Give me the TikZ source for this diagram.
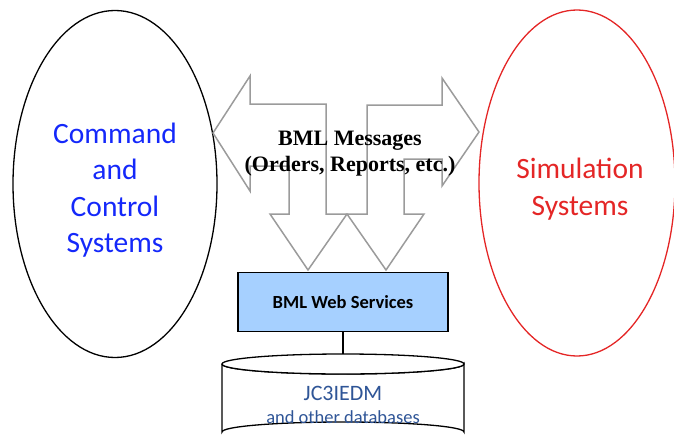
\documentclass[tikz,border=0pt]{standalone}
\usepackage{fontspec}
\setmainfont{Carlito}
\newfontfamily\timesfont{Liberation Serif}
\usetikzlibrary{arrows.meta,positioning,calc,shapes.geometric}
\definecolor{ctwoblue}{RGB}{20,40,250}
\definecolor{simred}{RGB}{228,38,38}
\definecolor{dbblue}{RGB}{47,85,151}
\definecolor{wsfill}{RGB}{166,208,255}
\definecolor{arrowgray}{RGB}{155,155,155}
\tikzset{
  every picture/.append style={line width=1.2pt},
}

\begin{document}
\begin{tikzpicture}[
  x=1pt, y=-1pt,
  system/.style={
    ellipse,
    draw,
    line width=1.3pt,
    inner sep=0pt
  },
  systext/.style={align=center, font=\fontsize{29.5}{36.3}\selectfont},
  msgarrow/.style={draw=arrowgray, line width=1.5pt, line join=miter},
  wsbox/.style={
    rectangle,
    draw,
    fill=wsfill,
    minimum width=210pt,
    minimum height=59pt,
    font=\fontsize{18.5}{22}\selectfont\bfseries
  },
  dbbox/.style={draw, line width=1.3pt, fill=white}
]
\useasboundingbox (0,0) rectangle (674,436);

% --- the two sides ---
\node[system, minimum width=204pt, minimum height=347pt] (ctwo) at (115,184) {};
\node[systext, text=ctwoblue] (ctwolabel) at (115,190) {Command\\and\\Control\\Systems};
\node[system, draw=simred, minimum width=196pt, minimum height=346pt] (sim) at (577,183) {};
\node[systext, text=simred] (simlabel) at (580,189) {Simulation\\Systems};

% --- message arrows ---
\draw[msgarrow] (213,133) -- (250,76) -- (250,104) -- (326,104) -- (326,214) -- (347,214)
  -- (308,270) -- (270,214) -- (289,214) -- (289,166) -- (250,166) -- (250,191) -- cycle;
\draw[msgarrow] (479,132) -- (442,78) -- (442,105) -- (367,105) -- (367,214) -- (347,214)
  -- (386,270) -- (424,214) -- (404,214) -- (404,159) -- (442,159) -- (442,186) -- cycle;

\node[align=center, font=\timesfont\fontsize{22}{26}\selectfont\bfseries] (msg) at (350,154)
  {BML Messages\\(Orders, Reports, etc.)};

% --- web services ---
\node[wsbox] (ws) at (343,302) {BML Web Services};

% --- database ---
\draw[dbbox] (222,364) -- (222,432) arc[start angle=180, end angle=360, x radius=121, y radius=10]
  -- (464,364) arc[start angle=0, end angle=180, x radius=121, y radius=10];
\draw[dbbox] (343,364) ellipse[x radius=121, y radius=10];
\coordinate (dbtop) at (343,354);
\node[text=dbblue, align=center, font=\fontsize{18.5}{22}\selectfont] (db) at (343,405)
  {{\fontsize{22}{26}\selectfont JC3IEDM}\\[1pt]and other databases};

\draw (ws.south) -- (dbtop);

\end{tikzpicture}
\end{document}
